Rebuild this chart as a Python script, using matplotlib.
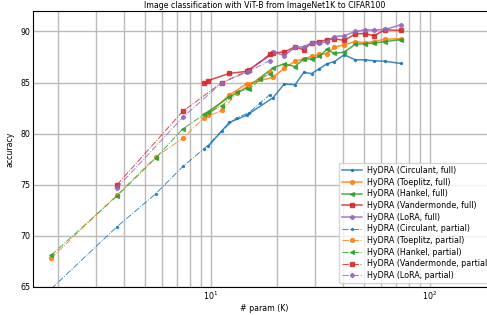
import matplotlib
matplotlib.use("Agg")
import matplotlib.pyplot as plt

# x values (# params in K)
x_part_a = [1.86, 3.72, 5.58, 7.44, 9.3, 11.2, 13.1, 14.9, 16.8, 18.5]
x_part_b = [3.72, 7.44, 11.2, 14.9, 18.6]
x_full = [9.72, 12.12, 14.56, 19.25, 21.6, 24.2, 26.5, 28.8, 31.2, 33.8, 36.6,
          40.6, 45.6, 50.3, 55.5, 62.3, 73.5]
x_full_red = [9.3] + x_full
x_full_lora = [14.56, 19.25, 21.6, 24.2, 26.5, 28.8, 31.2, 33.8, 36.6, 40.6,
               45.6, 50.3, 55.5, 62.3, 73.5]

# full
circ_full = [78.78, 81.10, 81.81, 83.54, 84.87, 84.78, 85.99, 85.89, 86.35, 86.84,
             87.06, 87.72, 87.23, 87.23, 87.13, 87.09, 86.87]
toep_full = [81.85, 83.8, 84.88, 85.53, 86.41, 87.09, 87.33, 87.58, 87.75, 87.84,
             88.47, 88.7, 89.02, 88.9, 89.02, 89.25, 89.29]
hank_full = [82.17, 83.6, 84.5, 86.45, 86.84, 86.57, 87.33, 87.31, 87.56, 88.24,
             87.85, 87.98, 88.76, 88.8, 88.85, 89.02, 89.19]
vand_full = [84.95, 85.2, 85.9, 86.1, 87.9, 88.0, 88.5, 88.2, 88.9, 89.0, 89.2,
             89.3, 89.12, 89.77, 89.8, 89.58, 90.17, 90.1]
lora_full = [86.05, 87.98, 87.65, 88.45, 88.5, 88.9, 88.85, 89.0, 89.51, 89.58,
             90.0, 90.15, 90.15, 90.2, 90.65]

# partial
circ_part = [64.8, 70.9, 74.1, 76.8, 78.52, 80.28, 81.56, 82.05, 83.02, 83.81]
toep_part = [67.8, 74.0, 77.7, 79.56, 81.56, 82.27, 83.96, 84.78, 85.4, 86.0]
hank_part = [68.1, 73.9, 77.6, 80.48, 81.88, 82.73, 84.1, 84.33, 85.33, 85.86]
vand_part = [75.0, 82.2, 85.0, 86.2, 87.8]
lora_part = [74.7, 81.6, 84.98, 86.09, 87.16]

names = ["Circulant", "Toeplitz", "Hankel", "Vandermonde", "LoRA"]
colors = ["tab:blue", "tab:orange", "tab:green", "tab:red", "tab:purple"]
markers = [".", "o", "<", "s", "P"]
full_x = [x_full, x_full, x_full, x_full_red, x_full_lora]
full_y = [circ_full, toep_full, hank_full, vand_full, lora_full]
part_x = [x_part_a, x_part_a, x_part_a, x_part_b, x_part_b]
part_y = [circ_part, toep_part, hank_part, vand_part, lora_part]

plt.rcParams['font.size'] = 5.7
fig = plt.figure(figsize=(4.87, 3.15), dpi=100)
ax = fig.add_axes([0.0678, 0.0889, 0.9505, 0.876])

for n, c, m, xs, ys in zip(names, colors, markers, full_x, full_y):
    ax.plot(xs, ys, linestyle="-", marker=m, color=c, lw=1.1, ms=2.8, alpha=0.85,
            label=f"HyDRA ({n}, full)")
for n, c, m, xs, ys in zip(names, colors, markers, part_x, part_y):
    ax.plot(xs, ys, linestyle="-.", marker=m, color=c, lw=0.7, ms=2.8, alpha=0.85,
            label=f"HyDRA ({n}, partial)")

ax.set_xscale("log")
ax.set_xlim(1.539, 200)
ax.set_ylim(65, 92)
ax.set_yticks([65, 70, 75, 80, 85, 90])
ax.tick_params(which="both", length=0, pad=2)
ax.grid(True, which="both", axis="x", color="#bbbbbb", lw=1)
ax.grid(True, which="major", axis="y", color="#bbbbbb", lw=1)
ax.set_axisbelow(True)
ax.set_title("Image classification with ViT-B from ImageNet1K to CIFAR100", fontsize=5.7, pad=2)
ax.set_xlabel("# param (K)", labelpad=1)
ax.set_ylabel("accuracy", labelpad=4)
ax.legend(loc="lower left", bbox_to_anchor=(0.655, 0.005), fontsize=5.8,
          handlelength=2.5, borderaxespad=0.3, labelspacing=0.33, handletextpad=0.6)

fig.savefig("out.png", dpi=100)
